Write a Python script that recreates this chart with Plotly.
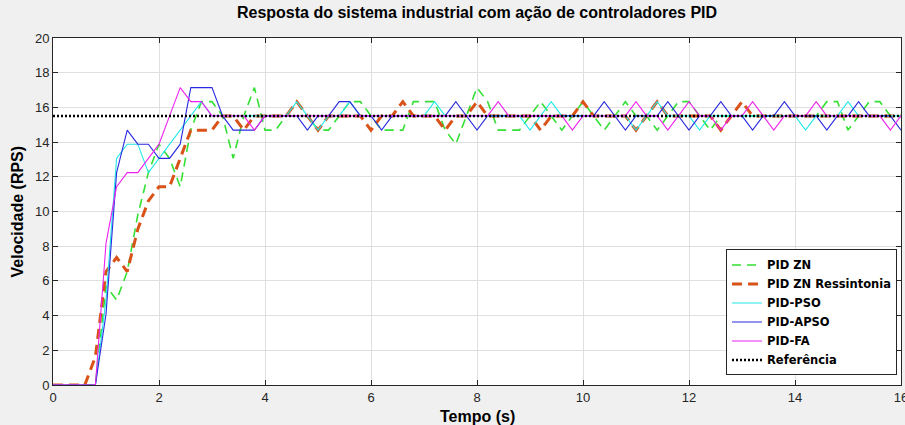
import numpy as np
import plotly.graph_objects as go

# time samples (s)
tempo = np.round(np.arange(0, 16.0001, 0.2), 1).tolist()

# --- series values (RPS) ---
pid_zn = [0, 0, 0, 0, 0,
          5.71, 4.90, 6.53, 9.80, 12.24,            # 1.0-1.8
          13.88, 13.06, 11.43, 14.69, 16.33,        # 2.0-2.8
          16.33, 15.51, 13.06, 15.51, 17.14,        # 3.0-3.8
          14.69, 14.69, 15.51, 15.51, 15.51,        # 4.0-4.8
          14.69, 14.69, 15.51, 16.33, 16.33,        # 5.0-5.8
          15.51, 14.69, 14.69, 14.69, 16.33,        # 6.0-6.8
          16.33, 16.33, 14.69, 13.88, 15.51,        # 7.0-7.8
          17.14, 16.33, 14.69, 14.69, 14.69,        # 8.0-8.8
          15.51, 16.33, 15.51, 14.69, 15.51,        # 9.0-9.8
          16.33, 15.51, 14.69, 15.51, 16.33,        # 10.0-10.8
          15.51, 15.51, 14.69, 15.51, 16.33,        # 11.0-11.8
          16.33, 15.51, 14.69, 15.51, 15.51,        # 12.0-12.8
          15.51, 15.51, 15.51, 15.51, 15.51,        # 13.0-13.8
          15.51, 15.51, 15.51, 16.33, 16.33,        # 14.0-14.8
          14.69, 15.51, 16.33, 16.33, 15.51,        # 15.0-15.8
          15.51]                                    # 16.0

pid_zn_ress = [0, 0, 0, 0, 1.63,
               6.53, 7.35, 6.53, 8.98, 10.61,       # 1.0-1.8
               11.43, 11.43, 13.06, 14.69, 14.69,   # 2.0-2.8
               14.69, 15.51, 15.51, 14.69, 15.51,   # 3.0-3.8
               15.51, 15.51, 15.51, 16.33, 15.51,   # 4.0-4.8
               14.69, 15.51, 15.51, 15.51, 15.51,   # 5.0-5.8
               14.69, 15.51, 15.51, 16.33, 15.51,   # 6.0-6.8
               15.51, 15.51, 14.69, 15.51, 15.51,   # 7.0-7.8
               16.33, 15.51, 15.51, 15.51, 15.51,   # 8.0-8.8
               15.51, 14.69, 15.51, 15.51, 15.51,   # 9.0-9.8
               16.33, 15.51, 15.51, 15.51, 15.51,   # 10.0-10.8
               14.69, 15.51, 16.33, 15.51, 15.51,   # 11.0-11.8
               15.51, 15.51, 15.51, 14.69, 15.51,   # 12.0-12.8
               16.33, 15.51, 15.51, 15.51, 15.51,   # 13.0-13.8
               15.51, 15.51, 15.51, 15.51, 15.51,   # 14.0-14.8
               15.51, 15.51, 15.51, 15.51, 15.51,   # 15.0-15.8
               15.51]

pid_pso = [0, 0, 0, 0, 0,
           4.90, 13.06, 13.88, 13.88, 12.24,        # 1.0-1.8
           13.06, 13.88, 14.69, 15.51, 16.33,       # 2.0-2.8
           15.51, 15.51, 15.51, 15.51, 15.51,       # 3.0-3.8
           15.51, 15.51, 15.51, 16.33, 15.51,       # 4.0-4.8
           14.69, 15.51, 15.51, 16.33, 15.51,       # 5.0-5.8
           15.51, 15.51, 15.51, 15.51, 15.51,       # 6.0-6.8
           15.51, 16.33, 15.51, 15.51, 15.51,       # 7.0-7.8
           15.51, 15.51, 15.51, 15.51, 15.51,       # 8.0-8.8
           14.69, 15.51, 16.33, 15.51, 15.51,       # 9.0-9.8
           15.51, 15.51, 15.51, 15.51, 15.51,       # 10.0-10.8
           14.69, 15.51, 16.33, 15.51, 15.51,       # 11.0-11.8
           15.51, 14.69, 15.51, 15.51, 15.51,       # 12.0-12.8
           15.51, 15.51, 15.51, 15.51, 15.51,       # 13.0-13.8
           15.51, 14.69, 15.51, 15.51, 15.51,       # 14.0-14.8
           16.33, 15.51, 15.51, 15.51, 15.51,       # 15.0-15.8
           15.51]

pid_apso = [0, 0, 0, 0, 0,
            4.08, 12.24, 14.69, 13.88, 13.88,       # 1.0-1.8
            13.06, 13.06, 13.88, 17.14, 17.14,      # 2.0-2.8
            17.14, 15.51, 14.69, 14.69, 14.69,      # 3.0-3.8
            15.51, 15.51, 15.51, 15.51, 14.69,      # 4.0-4.8
            15.51, 15.51, 16.33, 16.33, 15.51,      # 5.0-5.8
            15.51, 14.69, 15.51, 15.51, 15.51,      # 6.0-6.8
            15.51, 15.51, 15.51, 16.33, 15.51,      # 7.0-7.8
            14.69, 15.51, 15.51, 15.51, 15.51,      # 8.0-8.8
            15.51, 15.51, 15.51, 15.51, 15.51,      # 9.0-9.8
            15.51, 15.51, 16.33, 15.51, 14.69,      # 10.0-10.8
            15.51, 15.51, 15.51, 16.33, 15.51,      # 11.0-11.8
            14.69, 15.51, 15.51, 16.33, 15.51,      # 12.0-12.8
            15.51, 14.69, 15.51, 15.51, 16.33,      # 13.0-13.8
            15.51, 15.51, 15.51, 14.69, 15.51,      # 14.0-14.8
            15.51, 16.33, 15.51, 15.51, 15.51,      # 15.0-15.8
            14.69]

pid_fa = [0, 0, 0, 0, 0,
          8.16, 11.43, 12.24, 12.24, 13.06,         # 1.0-1.8
          13.88, 15.51, 17.14, 16.33, 16.33,        # 2.0-2.8
          15.51, 15.51, 15.51, 15.51, 14.69,        # 3.0-3.8
          15.51, 15.51, 15.51, 15.51, 15.51,        # 4.0-4.8
          15.51, 15.51, 15.51, 15.51, 15.51,        # 5.0-5.8
          15.51, 15.51, 15.51, 15.51, 15.51,        # 6.0-6.8
          15.51, 15.51, 15.51, 15.51, 15.51,        # 7.0-7.8
          15.51, 15.51, 16.33, 15.51, 15.51,        # 8.0-8.8
          15.51, 15.51, 15.51, 15.51, 14.69,        # 9.0-9.8
          15.51, 15.51, 15.51, 15.51, 15.51,        # 10.0-10.8
          16.33, 15.51, 15.51, 14.69, 15.51,        # 11.0-11.8
          16.33, 15.51, 15.51, 14.69, 15.51,        # 12.0-12.8
          15.51, 16.33, 15.51, 14.69, 15.51,        # 13.0-13.8
          15.51, 15.51, 16.33, 15.51, 15.51,        # 14.0-14.8
          15.51, 15.51, 15.51, 15.51, 14.69,        # 15.0-15.8
          15.51]

referencia = 15.5
ref_x = [0, 16]

x_ticks = [0, 2, 4, 6, 8, 10, 12, 14, 16]
y_ticks = [0, 2, 4, 6, 8, 10, 12, 14, 16, 18, 20]

for s in (pid_zn, pid_zn_ress, pid_pso, pid_apso, pid_fa):
    assert len(s) == len(tempo), len(s)

FONT = "Liberation Sans, Arial, sans-serif"
LEG_FONT = "DejaVu Sans, Liberation Sans, sans-serif"

fig = go.Figure()
fig.add_trace(go.Scatter(x=tempo, y=pid_zn, mode="lines", name="<b>PID ZN</b>",
                         line=dict(color="#35e035", width=1.6, dash="9px,6px")))
fig.add_trace(go.Scatter(x=tempo, y=pid_zn_ress, mode="lines", name="<b>PID ZN Ressintonia</b>",
                         line=dict(color="#d95319", width=3, dash="10px,6px")))
fig.add_trace(go.Scatter(x=tempo, y=pid_pso, mode="lines", name="<b>PID-PSO</b>",
                         line=dict(color="#22e8e8", width=1.1)))
fig.add_trace(go.Scatter(x=tempo, y=pid_apso, mode="lines", name="<b>PID-APSO</b>",
                         line=dict(color="#2a2ae0", width=1.1)))
fig.add_trace(go.Scatter(x=tempo, y=pid_fa, mode="lines", name="<b>PID-FA</b>",
                         line=dict(color="#ee22ee", width=1.1)))
fig.add_trace(go.Scatter(x=ref_x, y=[referencia, referencia], mode="lines", name="<b>Referência</b>",
                         line=dict(color="#000000", width=2.5, dash="2px,2px")))

axis_common = dict(
    showgrid=True, gridcolor="#dfdfdf", gridwidth=1,
    showline=True, linecolor="#262626", linewidth=1, mirror="ticks",
    ticks="inside", ticklen=5, tickcolor="#262626",
    tickfont=dict(family=FONT, size=13, color="#262626"),
    ticklabeloverflow="allow", automargin=False,
    zeroline=False,
)

fig.update_layout(
    width=905, height=425,
    paper_bgcolor="#f0f0f0", plot_bgcolor="#ffffff",
    margin=dict(l=53, r=4, t=38, b=40, autoexpand=False),
    title=dict(text="<b>Resposta do sistema industrial com ação de controladores PID</b>",
               x=477 / 905, xanchor="center", y=1 - 12 / 425, yanchor="middle",
               font=dict(family=FONT, size=16, color="#000000")),
    xaxis=dict(range=[0, 16], tickvals=x_ticks, **axis_common),
    yaxis=dict(range=[0, 20], tickvals=y_ticks, **axis_common),
    legend=dict(x=0.9953, xanchor="right", y=0.209, yanchor="middle",
                bgcolor="#ffffff", bordercolor="#262626", borderwidth=1,
                font=dict(family=LEG_FONT, size=11.5, color="#000000"),
                tracegroupgap=0, itemwidth=30),
    showlegend=True,
    annotations=[
        dict(text="<b>Velocidade (RPS)</b>", xref="paper", yref="paper",
             x=-0.0413, y=0.5, textangle=-90, showarrow=False,
             xanchor="center", yanchor="middle",
             font=dict(family=FONT, size=16, color="#000000")),
        dict(text="<b>Tempo (s)</b>", xref="paper", yref="paper",
             x=0.5, y=0, yshift=-31, showarrow=False,
             xanchor="center", yanchor="middle",
             font=dict(family=FONT, size=16, color="#000000")),
    ],
)

fig.write_html("out.html", config={"displayModeBar": False},
               post_script="document.body.style.margin='0';document.body.style.padding='0';")
